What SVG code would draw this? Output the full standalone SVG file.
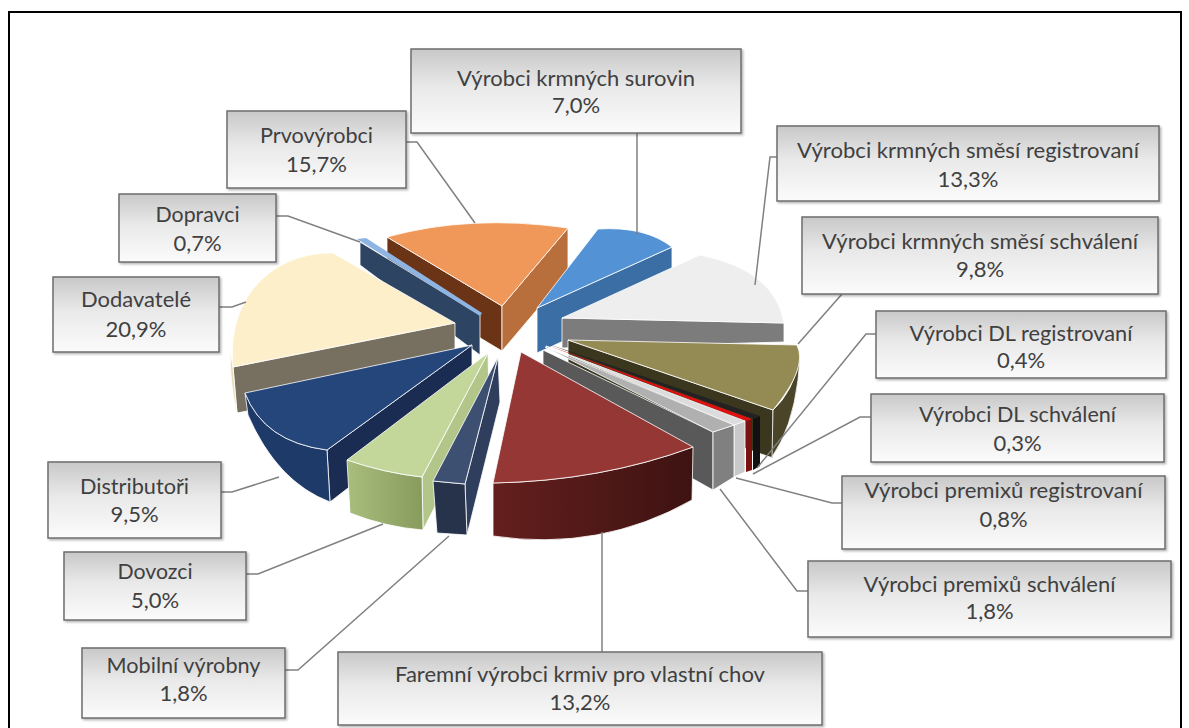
<svg xmlns="http://www.w3.org/2000/svg" width="1189" height="728" viewBox="0 0 1189 728">
<defs>
<linearGradient id="boxg" x1="0" y1="0" x2="0" y2="1"><stop offset="0" stop-color="#c8c8c8"/><stop offset="0.45" stop-color="#e9e9e9"/><stop offset="1" stop-color="#fbfbfb"/></linearGradient>
<linearGradient id="redwall" x1="0" y1="0" x2="1" y2="0"><stop offset="0" stop-color="#641f1d"/><stop offset="1" stop-color="#3d1312"/></linearGradient>
<linearGradient id="greenwall" x1="0" y1="0" x2="1" y2="0"><stop offset="0" stop-color="#a9bd7d"/><stop offset="1" stop-color="#879b5d"/></linearGradient>
<filter id="sh" x="-5%" y="-5%" width="115%" height="125%"><feDropShadow dx="1.5" dy="1.5" stdDeviation="1" flood-color="#000" flood-opacity="0.3"/></filter>
</defs>
<style>
.box rect{fill:url(#boxg);stroke:#6e6e6e;stroke-width:1.5;filter:url(#sh)}
.box text{font-family:Lato,"Liberation Sans",sans-serif;font-size:22px;fill:#404040;text-anchor:middle}
.f{stroke:#ffffff;stroke-width:1;stroke-opacity:0.8;stroke-linejoin:round}
#connectors path{fill:none;stroke:#808080;stroke-width:1.5}
</style>
<rect x="9" y="12" width="1172" height="740" fill="#fff" stroke="#000" stroke-width="2"/>
<g id="pie">
<g id="s-prvovyrobci">
<path class="f" fill="#6b3417" d="M387,237 L502,306 L502,351 L387,282 Z"/>
<path class="f" fill="#b86f3c" d="M568,228 L502,306 L502,351 L568,273 Z"/>
<path class="f" fill="#f0985a" d="M502,306 L387,237 Q470,214 568,228 Z"/>
</g>
<g id="s-dopravci">
<path class="f" fill="#2d4563" d="M360,242 L480,315 L480,355 L360,265 Z"/>
<path fill="#8db4e2" d="M357,239 L366,238 L482,313 L480,316 Z"/>
</g>
<g id="s-surovin">
<path class="f" fill="#3b6ea5" d="M537,308 L672,247 L672,292 L537,353 Z"/>
<path class="f" fill="#5393d5" d="M537,308 L598,229 Q645,226 672,247 Z"/>
</g>
<g id="s-dodavatele">
<path class="f" fill="#777060" d="M233,367 L455,323 L455,370 L237,413 Z"/>
<path class="f" fill="#eadcb4" d="M229,318 Q228,345 233,367 L237,413 Q230,385 230,350 Z"/>
<path class="f" fill="#fcefc9" d="M455,323 L333,253 C275,252 226,295 233,367 Z"/>
</g>
<g id="s-smesi-reg">
<path class="f" fill="#7c7c7c" d="M562,318 L784,323 L784,342 L562,348 Z"/>
<path class="f" fill="#eeeeee" d="M562,318 L700,255 Q775,270 784,323 Z"/>
</g>
<g id="s-smesi-schv">
<path class="f" fill="#3b371e" d="M568,340 L773,410 L773,458 L568,388 Z"/>
<path class="f" fill="#4a4428" d="M800,358 Q793,392 773,410 L772,457 Q792,428 798,380 Z"/>
<path class="f" fill="#948a54" d="M568,340 L797,345 Q808,368 773,410 Z"/>
</g>
<g id="s-dl-reg">
<path fill="#111111" d="M753,419 L760,416 L760,466 L753,470 Z"/>
<path fill="#222222" d="M548,344 L760,416 L753,419 Z"/>
</g>
<g id="s-dl-schv">
<path fill="#7a1010" d="M746,421 L752,419 L752,470 L746,472 Z"/>
<path fill="#e01010" d="M547,345 L752,419 L746,421 Z"/>
</g>
<g id="s-premix-reg">
<path class="f" fill="#c9c9c9" d="M734,425 L745,421 L745,472 L734,477 Z"/>
<path class="f" fill="#dcdcdc" d="M546,346 L745,421 L734,425 Z"/>
</g>
<g id="s-premix-schv">
<path class="f" fill="#595959" d="M543,350 L713,432 L713,490 L543,395 Z"/>
<path class="f" fill="#808080" d="M713,432 L734,425 L734,477 L713,490 Z"/>
<path class="f" fill="#b0b0b0" d="M545,347 L734,425 L713,432 Z"/>
</g>
<g id="s-distributori">
<path class="f" fill="#1a2c52" d="M327,450 L472,345 L472,392 L330,502 Z"/>
<path class="f" fill="#1e3a68" d="M245,393 Q264,442 327,450 L330,502 Q277,482 248,415 Z"/>
<path class="f" fill="#25467b" d="M472,345 L245,393 Q264,442 327,450 Z"/>
</g>
<g id="s-dovozci">
<path class="f" fill="#b3c68a" d="M422,477 L488,353 L489,400 L423,530 Z"/>
<path class="f" fill="url(#greenwall)" d="M347,460 Q385,473 422,477 L423,530 Q385,527 350,513 Z"/>
<path class="f" fill="#c4d79b" d="M488,353 L347,460 Q385,473 422,477 Z"/>
</g>
<g id="s-mobilni">
<path class="f" fill="#2f3e5c" d="M465,484 L498,357 L500,402 L467,535 Z"/>
<path class="f" fill="#27324b" d="M433,481 L465,484 L467,535 L437,533 Z"/>
<path class="f" fill="#3e5072" d="M498,357 L433,481 L465,484 Z"/>
</g>
<g id="s-faremni">
<path class="f" fill="url(#redwall)" d="M493,483 Q601,481 693,447 L692,500 Q600,552 493,536 Z"/>
<path class="f" fill="#953735" d="M521,352 L693,447 Q601,481 493,483 Z"/>
</g>
</g>
<g id="connectors">
<path d="M637,133 L637,235"/>
<path d="M406,142 L417,142 L475,223"/>
<path d="M777,157 L770,157 L755,285"/>
<path d="M276,216 L288,216 L360,242"/>
<path d="M842,294 L798,344"/>
<path d="M219,307 L232,307 L246,302"/>
<path d="M876,334 L866,334 L757,468"/>
<path d="M871,417 L860,417 L753,474"/>
<path d="M842,503 L832,503 L736,478"/>
<path d="M221,492 L232,492 L279,477"/>
<path d="M808,591 L797,591 L720,489"/>
<path d="M246,574 L258,574 L383,524"/>
<path d="M285,670 L298,670 L449,536"/>
<path d="M602,652 L602,532"/>
</g>
<g id="l-surovin" class="box"><rect x="411" y="49" width="330" height="84"/><text x="576" y="86" textLength="238" lengthAdjust="spacingAndGlyphs">Výrobci krmných surovin</text><text x="576" y="113">7,0%</text></g>
<g id="l-prvovyrobci" class="box"><rect x="227" y="111" width="179" height="77"/><text x="316.5" y="143" textLength="113" lengthAdjust="spacingAndGlyphs">Prvovýrobci</text><text x="316.5" y="172">15,7%</text></g>
<g id="l-smesi-reg" class="box"><rect x="777" y="126" width="382" height="75"/><text x="968" y="158" textLength="342" lengthAdjust="spacingAndGlyphs">Výrobci krmných směsí registrovaní</text><text x="968" y="187">13,3%</text></g>
<g id="l-dopravci" class="box"><rect x="119" y="194" width="157" height="68"/><text x="197.5" y="222" textLength="84" lengthAdjust="spacingAndGlyphs">Dopravci</text><text x="197.5" y="251">0,7%</text></g>
<g id="l-smesi-schv" class="box"><rect x="802" y="217" width="356" height="77"/><text x="980" y="249" textLength="316" lengthAdjust="spacingAndGlyphs">Výrobci krmných směsí schválení</text><text x="980" y="277">9,8%</text></g>
<g id="l-dodavatele" class="box"><rect x="53" y="277" width="166" height="75"/><text x="136" y="307" textLength="110" lengthAdjust="spacingAndGlyphs">Dodavatelé</text><text x="136" y="337">20,9%</text></g>
<g id="l-dl-reg" class="box"><rect x="876" y="311" width="290" height="67"/><text x="1021" y="341" textLength="223" lengthAdjust="spacingAndGlyphs">Výrobci DL registrovaní</text><text x="1021" y="368">0,4%</text></g>
<g id="l-dl-schv" class="box"><rect x="871" y="394" width="293" height="68"/><text x="1017.5" y="422" textLength="197" lengthAdjust="spacingAndGlyphs">Výrobci DL schválení</text><text x="1017.5" y="451">0,3%</text></g>
<g id="l-premix-reg" class="box"><rect x="842" y="476" width="323" height="73"/><text x="1003.5" y="498" textLength="278" lengthAdjust="spacingAndGlyphs">Výrobci premixů registrovaní</text><text x="1003.5" y="527">0,8%</text></g>
<g id="l-distributori" class="box"><rect x="48" y="462" width="173" height="76"/><text x="134.5" y="494" textLength="109" lengthAdjust="spacingAndGlyphs">Distributoři</text><text x="134.5" y="522">9,5%</text></g>
<g id="l-premix-schv" class="box"><rect x="808" y="561" width="363" height="76"/><text x="989.5" y="592" textLength="252" lengthAdjust="spacingAndGlyphs">Výrobci premixů schválení</text><text x="989.5" y="619">1,8%</text></g>
<g id="l-dovozci" class="box"><rect x="64" y="552" width="182" height="68"/><text x="155" y="579" textLength="75" lengthAdjust="spacingAndGlyphs">Dovozci</text><text x="155" y="608">5,0%</text></g>
<g id="l-mobilni" class="box"><rect x="82" y="648" width="203" height="70"/><text x="183.5" y="673" textLength="154" lengthAdjust="spacingAndGlyphs">Mobilní výrobny</text><text x="183.5" y="701">1,8%</text></g>
<g id="l-faremni" class="box"><rect x="338" y="652" width="484" height="73"/><text x="580" y="682" textLength="370" lengthAdjust="spacingAndGlyphs">Faremní výrobci krmiv pro vlastní chov</text><text x="580" y="710">13,2%</text></g>
</svg>
